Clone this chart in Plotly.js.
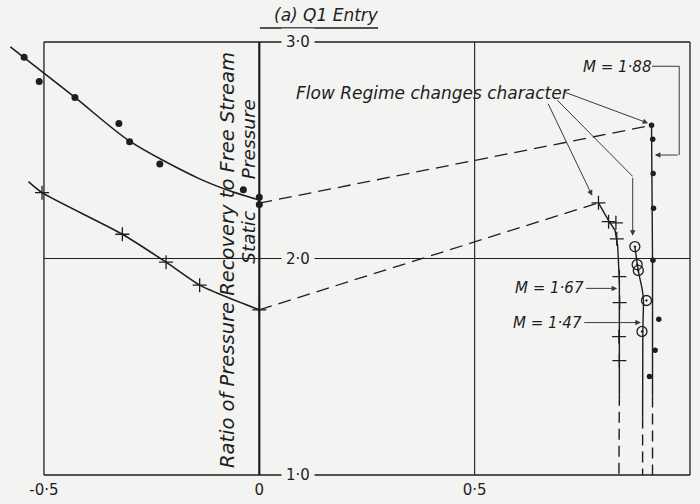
<!DOCTYPE html>
<html>
<head>
<meta charset="utf-8">
<script src="https://cdn.plot.ly/plotly-3.0.1.min.js"></script>
<style>html,body{margin:0;padding:0;background:#f3f3f1;}#chart{width:700px;height:504px;}</style>
</head>
<body>
<div id="chart"></div>
<script>
// ---- tick labels ----
const xTickVals = [-0.5, 0, 0.5, 1.0];
const xTickText = ['-0·5', '0', '0·5', '1·0'];
const yTickVals = [1.0, 2.0, 3.0];
const yTickText = ['1·0', '2·0', '3·0'];

// ---- upper-left series (dots) and its faired curve ----
const dotsA_x = [-0.546, -0.511, -0.428, -0.326, -0.301, -0.231, -0.037, 0.0, 0.0];
const dotsA_y = [2.930, 2.817, 2.744, 2.623, 2.539, 2.437, 2.317, 2.283, 2.249];
const curveA_x = [-0.578, -0.428, -0.301, -0.141, -0.064, 0.0];
const curveA_y = [2.977, 2.744, 2.542, 2.370, 2.309, 2.270];

// ---- lower-left series (crosses) and its curve ----
const crossB_x = [-0.5045, -0.318, -0.2165, -0.1385, 0.0];
const crossB_y = [2.304, 2.112, 1.983, 1.877, 1.763];
const curveB_x = [-0.536, -0.5045, -0.318, -0.2165, -0.1385, -0.0685, 0.0];
const curveB_y = [2.355, 2.304, 2.112, 1.983, 1.877, 1.816, 1.763];

// ---- dashed connectors ----
const dash1_x = [0.0, 0.9107];
const dash1_y = [2.256, 2.615];
const dash2_x = [0.0, 0.7875];
const dash2_y = [1.763, 2.257];

// ---- right series: crosses (M = 1.67) ----
const crossC_x = [0.7875, 0.811, 0.828, 0.830, 0.836, 0.8366, 0.835, 0.836];
const crossC_y = [2.257, 2.170, 2.165, 2.091, 1.916, 1.796, 1.639, 1.528];
const lineC_x = [0.7875, 0.811, 0.826, 0.832, 0.836, 0.836];
const lineC_y = [2.257, 2.175, 2.130, 2.060, 1.900, 1.371];
const lineCdash_x = [0.836, 0.835];
const lineCdash_y = [1.371, 1.0];

// ---- right series: circled dots (M = 1.47) ----
const circE_x = [0.872, 0.8773, 0.880, 0.899, 0.8885];
const circE_y = [2.055, 1.972, 1.945, 1.806, 1.663];
const lineE_x = [0.872, 0.880, 0.8895, 0.892, 0.8905, 0.890];
const lineE_y = [2.055, 1.943, 1.852, 1.806, 1.667, 1.266];
const lineEdash_x = [0.890, 0.890];
const lineEdash_y = [1.266, 1.0];

// ---- right series: dots (M = 1.88) ----
const dotsD_x = [0.9107, 0.9135, 0.9144, 0.9153, 0.914, 0.9276, 0.919, 0.906];
const dotsD_y = [2.615, 2.551, 2.393, 2.232, 1.992, 1.719, 1.576, 1.455];
const lineD_x = [0.9107, 0.913, 0.913];
const lineD_y = [2.615, 2.0, 1.363];
const lineDdash_x = [0.913, 0.913];
const lineDdash_y = [1.363, 1.0];

const BG = '#f3f3f1';
const INK = '#1e1e1e';
const FONT = 'DejaVu Sans';

function line(x, y, opts) {
  return Object.assign({
    x: x, y: y, type: 'scatter', mode: 'lines', hoverinfo: 'skip', showlegend: false,
    line: {color: INK, width: 1.5}
  }, opts || {});
}
function marks(x, y, marker) {
  return {x: x, y: y, type: 'scatter', mode: 'markers', hoverinfo: 'skip', showlegend: false, marker: marker};
}

const traces = [
  line(curveA_x, curveA_y, {line: {color: INK, width: 1.6, shape: 'spline', smoothing: 0.8}}),
  line(curveB_x, curveB_y, {line: {color: INK, width: 1.6, shape: 'spline', smoothing: 0.6}}),
  line(dash1_x, dash1_y, {line: {color: INK, width: 1.3, dash: '13px,7px'}}),
  line(dash2_x, dash2_y, {line: {color: INK, width: 1.3, dash: '13px,7px'}}),
  line(lineC_x, lineC_y, {line: {color: INK, width: 1.4}}),
  line(lineCdash_x, lineCdash_y, {line: {color: INK, width: 1.4, dash: '11px,6px'}}),
  line(lineE_x, lineE_y, {line: {color: INK, width: 1.4, shape: 'spline', smoothing: 0.6}}),
  line(lineEdash_x, lineEdash_y, {line: {color: INK, width: 1.4, dash: '11px,6px'}}),
  line(lineD_x, lineD_y, {line: {color: INK, width: 1.4}}),
  line(lineDdash_x, lineDdash_y, {line: {color: INK, width: 1.4, dash: '11px,6px'}}),
  marks(dotsA_x, dotsA_y, {symbol: 'circle', size: 7, color: INK}),
  marks(crossB_x, crossB_y, {symbol: 'cross-thin', size: 10, line: {color: INK, width: 1.3}}),
  marks(crossC_x, crossC_y, {symbol: 'cross-thin', size: 10, line: {color: INK, width: 1.3}}),
  marks(circE_x, circE_y, {symbol: 'circle-open-dot', size: 10, color: INK, line: {color: INK, width: 1.3}}),
  marks(dotsD_x, dotsD_y, {symbol: 'circle', size: 5.5, color: INK})
];

function seg(x0, y0, x1, y1, w, dash) {
  return {type: 'line', xref: 'x', yref: 'y', x0: x0, y0: y0, x1: x1, y1: y1,
          line: {color: INK, width: w, dash: dash || 'solid'}, layer: 'below'};
}
const shapes = [
  seg(-0.5, 3.0, 1.0, 3.0, 1.3),
  seg(-0.5, 1.0, 1.0, 1.0, 1.3),
  seg(-0.5, 1.0, -0.5, 3.0, 1.3),
  seg(1.0, 1.0, 1.0, 3.0, 1.3),
  seg(0.0, 1.0, 0.0, 3.0, 2.2),
  seg(0.5, 1.0, 0.5, 3.0, 1.1),
  seg(-0.5, 2.0, 1.0, 2.0, 1.1),
  // bent leader of the second arrow
  {type: 'line', xref: 'x', yref: 'y', x0: 0.692, y0: 2.731, x1: 0.867, y1: 2.379, line: {color: '#3a3a3a', width: 1}},
  // M = 1.88 leader
  {type: 'line', xref: 'x', yref: 'y', x0: 0.9115, y0: 2.888, x1: 0.975, y1: 2.888, line: {color: '#3a3a3a', width: 1}},
  {type: 'line', xref: 'x', yref: 'y', x0: 0.975, y0: 2.888, x1: 0.975, y1: 2.478, line: {color: '#3a3a3a', width: 1}},
  // title underline
  {type: 'line', xref: 'paper', yref: 'paper', x0: 0.366, y0: 1.0227, x1: 0.537, y1: 1.0227, line: {color: INK, width: 1.4}}
];

const txtFont = (s) => ({family: FONT, size: s, color: INK, style: 'italic'});

function arrow(xTip, yTip, xTail, yTail) {
  return {x: xTip, y: yTip, ax: xTail, ay: yTail, xref: 'x', yref: 'y', axref: 'x', ayref: 'y',
          text: '', showarrow: true, arrowhead: 2, arrowsize: 1.1, arrowwidth: 1, arrowcolor: '#3a3a3a', standoff: 0};
}

const annotations = [
  {xref: 'paper', yref: 'paper', x: 0.463, y: 1.052, text: '(a) Q1 Entry', showarrow: false,
   xanchor: 'center', yanchor: 'middle', font: txtFont(17)},
  // y tick labels sitting on the grid lines
  ...yTickVals.map((v, i) => ({x: 0.09, y: v, xref: 'x', yref: 'y', text: yTickText[i], showarrow: false,
    xanchor: 'center', yanchor: 'middle', bgcolor: BG, borderpad: 4, font: {family: FONT, size: 15, color: INK}})),
  // rotated axis title
  {x: -0.072, y: 1.994, xref: 'x', yref: 'y', text: 'Ratio of Pressure Recovery to Free Stream', textangle: -90,
   showarrow: false, xanchor: 'center', yanchor: 'middle', font: txtFont(19.5)},
  {x: -0.027, y: 2.099, xref: 'x', yref: 'y', text: 'Static', textangle: -90,
   showarrow: false, xanchor: 'center', yanchor: 'middle', font: txtFont(18.5)},
  {x: -0.025, y: 2.549, xref: 'x', yref: 'y', text: 'Pressure', textangle: -90,
   showarrow: false, xanchor: 'center', yanchor: 'middle', font: txtFont(18.5)},
  // notes
  {x: 0.404, y: 2.763, xref: 'x', yref: 'y', text: 'Flow Regime changes character', showarrow: false,
   xanchor: 'center', yanchor: 'middle', font: txtFont(17)},
  {x: 0.830, y: 2.886, xref: 'x', yref: 'y', text: 'M = 1·88', showarrow: false,
   xanchor: 'center', yanchor: 'middle', font: txtFont(15)},
  {x: 0.674, y: 1.862, xref: 'x', yref: 'y', text: 'M = 1·67', showarrow: false,
   xanchor: 'center', yanchor: 'middle', font: txtFont(15)},
  {x: 0.668, y: 1.702, xref: 'x', yref: 'y', text: 'M = 1·47', showarrow: false,
   xanchor: 'center', yanchor: 'middle', font: txtFont(15)},
  // arrows
  arrow(0.903, 2.625, 0.708, 2.769),
  arrow(0.867, 2.105, 0.867, 2.379),
  arrow(0.773, 2.290, 0.669, 2.7215),
  arrow(0.9185, 2.478, 0.975, 2.478),
  arrow(0.831, 1.862, 0.755, 1.862),
  arrow(0.886, 1.704, 0.751, 1.704)
];

const layout = {
  width: 700, height: 504,
  margin: {l: 7, r: 2, t: 38, b: 25},
  paper_bgcolor: BG, plot_bgcolor: BG,
  showlegend: false,
  xaxis: {range: [-0.5858, 1.0186], showgrid: false, zeroline: false, showline: false,
          tickmode: 'array', tickvals: xTickVals, ticktext: xTickText, ticks: '',
          tickfont: {family: FONT, size: 15, color: INK}, automargin: false, fixedrange: true},
  yaxis: {range: [0.9815, 3.0185], showgrid: false, zeroline: false, showline: false,
          showticklabels: false, ticks: '', automargin: false, fixedrange: true},
  shapes: shapes,
  annotations: annotations
};

Plotly.newPlot('chart', traces, layout, {staticPlot: true, displayModeBar: false});
</script>
</body>
</html>
